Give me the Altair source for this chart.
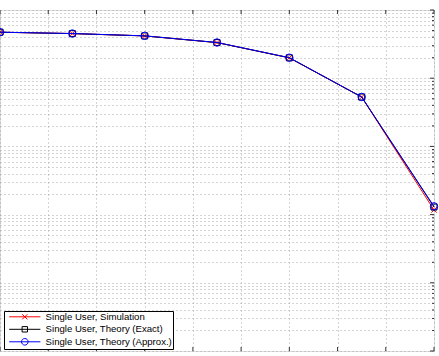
import altair as alt
import pandas as pd

# ---- data ----
snr = [0, 3, 6, 9, 12, 15, 18]
sim = [0.472, 0.451, 0.417, 0.333, 0.199, 0.0529, 0.00117]
exact = [0.472, 0.451, 0.417, 0.333, 0.199, 0.0529, 0.00129]
approx = [0.473, 0.452, 0.418, 0.334, 0.200, 0.0531, 0.00132]
series_names = ["Single User, Simulation",
                "Single User, Theory (Exact)",
                "Single User, Theory (Approx.)"]
series_colors = ["#ff0000", "#000000", "#0000ff"]
x_ticks = [0, 2, 4, 6, 8, 10, 12, 14, 16, 18]
y_major = [1e-5, 1e-4, 1e-3, 1e-2, 1e-1, 1]
y_minor = [m * 10.0 ** e for e in range(-5, 0) for m in range(2, 10)]

W, H = 434, 341

rows = []
for name, vals in zip(series_names, [sim, exact, approx]):
    for x, v in zip(snr, vals):
        rows.append({"snr": x, "p": v, "series": name})
df = pd.DataFrame(rows)

xs = alt.Scale(domain=[0, 18], nice=False, zero=False)
ys = alt.Scale(type="log", domain=[1e-5, 1], nice=False)

ax_x = alt.Axis(values=x_ticks, grid=True, gridColor="#a8a8a8", gridDash=[1, 3],
                gridWidth=1, labels=False, ticks=False, domain=False, title=None)
ax_y = alt.Axis(values=y_major + y_minor, grid=True, gridColor="#a8a8a8", gridDash=[1, 3],
                gridWidth=1, labels=False, ticks=False, domain=False, title=None)


def X(field):
    return alt.X(field, scale=xs, axis=ax_x)


def Y(field):
    return alt.Y(field, scale=ys, axis=ax_y)


marker_shapes = ["M-1,-1L1,1M-1,1L1,-1", "square", "circle"]
marker_sizes = [30, 36, 56]

layers = []
for name, col, shp, sz in zip(series_names, series_colors, marker_shapes, marker_sizes):
    sub = df[df.series == name]
    line = alt.Chart(sub).mark_line(color=col, strokeWidth=1).encode(x=X("snr:Q"), y=Y("p:Q"))
    pts = alt.Chart(sub).mark_point(shape=shp, filled=False, size=sz, color=col,
                                    strokeWidth=1, opacity=1).encode(x=X("snr:Q"), y=Y("p:Q"))
    layers += [line, pts]

# inside tick marks (MATLAB style)
xt = pd.DataFrame({"t": x_ticks})
ticks_top = alt.Chart(xt).mark_rule(color="#333", strokeWidth=1).encode(
    x=X("t:Q"), y=alt.value(0), y2=alt.value(4))
ticks_bot = alt.Chart(xt).mark_rule(color="#333", strokeWidth=1).encode(
    x=X("t:Q"), y=alt.value(H), y2=alt.value(H - 4))
ymaj = pd.DataFrame({"t": y_major})
ymin = pd.DataFrame({"t": y_minor})
ticks_rmaj = alt.Chart(ymaj).mark_rule(color="#333", strokeWidth=1).encode(
    y=Y("t:Q"), x=alt.value(W), x2=alt.value(W - 4))
ticks_rmin = alt.Chart(ymin).mark_rule(color="#333", strokeWidth=1).encode(
    y=Y("t:Q"), x=alt.value(W), x2=alt.value(W - 2))

# legend layer (invisible points, visible legend)
legend_paths = [
    "M-5.2,0H5.2M-0.85,-0.85L0.85,0.85M-0.85,0.85L0.85,-0.85",
    "M-5.2,0H5.2M-0.9,-0.9H0.9V0.9H-0.9Z",
    "M-5.2,0H5.2M-1.1,0A1.1,1.1 0 1,1 1.1,0A1.1,1.1 0 1,1 -1.1,0",
]
leg = alt.Legend(title=None, orient="none", legendX=4, legendY=301,
                 fillColor="white", strokeColor="#000", padding=1, cornerRadius=0,
                 labelFont="Liberation Sans", labelFontSize=9.6, labelColor="#000",
                 symbolSize=36, symbolStrokeWidth=1, symbolOffset=15, labelOffset=16,
                 rowPadding=1.5, symbolFillColor="transparent", symbolOpacity=1)
legend_layer = alt.Chart(df).mark_point(opacity=0, filled=False, strokeWidth=1).encode(
    x=X("snr:Q"), y=Y("p:Q"),
    color=alt.Color("series:N", scale=alt.Scale(domain=series_names, range=series_colors), legend=leg),
    shape=alt.Shape("series:N", scale=alt.Scale(domain=series_names, range=legend_paths), legend=leg),
)

chart = alt.layer(*layers, ticks_top, ticks_bot, ticks_rmaj, ticks_rmin, legend_layer).properties(
    width=W, height=H,
    autosize=alt.AutoSizeParams(type="none"),
    padding={"left": 0, "top": 10, "right": 5, "bottom": 5},
).configure_view(stroke="#222", strokeWidth=1).configure(background="white")

chart.save("out.html", embed_options={"renderer": "svg", "actions": False})
